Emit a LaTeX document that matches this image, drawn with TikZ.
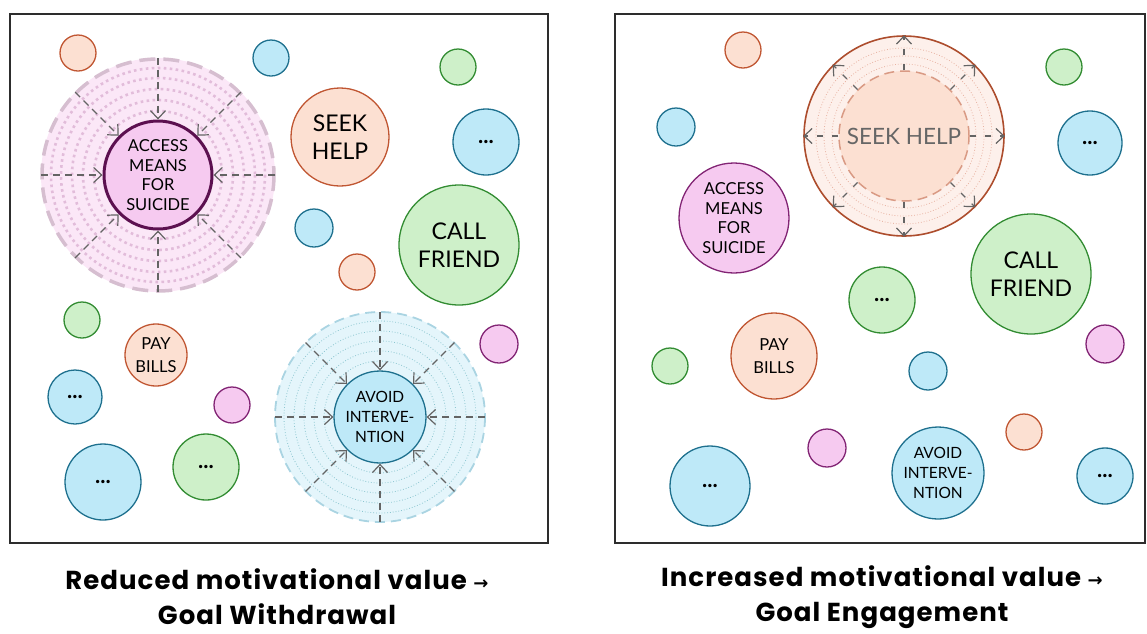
\documentclass[tikz,border=0pt]{standalone}
\usepackage{fontspec}
\setmainfont{Lato}
\newfontfamily\titlefont[LetterSpace=4]{Poppins}
\newfontfamily\arrowfont{DejaVu Sans}
\usetikzlibrary{arrows.meta}
\definecolor{orangefill}{RGB}{252,224,210}
\definecolor{orangeline}{RGB}{192,86,50}
\definecolor{bluefill}{RGB}{190,233,248}
\definecolor{blueline}{RGB}{30,112,142}
\definecolor{greenfill}{RGB}{206,240,201}
\definecolor{greenline}{RGB}{50,140,50}
\definecolor{pinkfill}{RGB}{246,202,240}
\definecolor{pinkline}{RGB}{130,36,116}
\definecolor{plumline}{RGB}{92,16,80}
\definecolor{pinkhalo}{RGB}{251,231,247}
\definecolor{pinkring}{RGB}{226,188,218}
\definecolor{pinkdash}{RGB}{214,190,208}
\definecolor{bluehalo}{RGB}{228,245,251}
\definecolor{bluering}{RGB}{140,198,208}
\definecolor{bluedash}{RGB}{170,212,226}
\definecolor{peachhalo}{RGB}{253,240,235}
\definecolor{peachring}{RGB}{232,178,162}
\definecolor{arrowgray}{RGB}{100,100,100}
\definecolor{framegray}{RGB}{45,45,45}
\newcommand{\dotring}[3]{
\draw[#3] (#1) circle[radius=#2];
}

\tikzset{
    bubble/.style={circle, draw, line width=1.3pt, inner sep=0pt, align=center,
        font=\fontsize{16.5}{19.5}\selectfont},
    orangebub/.style={bubble, fill=orangefill, draw=orangeline, minimum size=#1},
    bluebub/.style={bubble, fill=bluefill, draw=blueline, minimum size=#1},
    greenbub/.style={bubble, fill=greenfill, draw=greenline, minimum size=#1},
    pinkbub/.style={bubble, fill=pinkfill, draw=pinkline, minimum size=#1},
    bigtext/.style={font=\fontsize{23}{28}\selectfont},
    billtext/.style={font=\fontsize{16.5}{23}\selectfont},
    dots/.style={font=\bfseries\fontsize{22}{22}\selectfont},
    pushin/.style={draw=arrowgray, line width=1.2pt, dash pattern=on 7pt off 5pt,
        -{Straight Barb[length=8pt, width=15pt, line width=1.2pt]}},
    frame/.style={draw=framegray, line width=1.4pt},
    title/.style={align=center, font=\titlefont\bfseries\fontsize{26}{35}\selectfont}
}

\begin{document}
\begin{tikzpicture}[x=1pt, y=-1pt]
    \useasboundingbox (0,0) rectangle (1147,633);
    \draw[frame] (10,14) rectangle (548,543);
    \draw[frame] (615,14) rectangle (1145,543);

    % left panel: withdrawal
    \foreach \c/\x/\y/\d [count=\i] in {orange/78/53/36, blue/271/58/36, green/458/67/36,
        blue/314/228/38, orange/357/272/36, green/82/320/36, pink/499/344/38, pink/232/405/36}
        \node[\c bub=\d] (wdot\i) at (\x,\y) {};
    \node[orangebub=98, bigtext] (wseek) at (340,137) {SEEK\\HELP};
    \node[bluebub=66, dots] (wmore1) at (486,142) {...};
    \node[greenbub=120, bigtext] (wcall) at (459,245) {CALL\\FRIEND};
    \node[orangebub=62, billtext] (wbills) at (156,355) {PAY\\BILLS};
    \node[bluebub=54, dots] (wmore2) at (75,397) {...};
    \node[bluebub=76, dots] (wmore3) at (103,482) {...};
    \node[greenbub=66, dots] (wmore4) at (206,467) {...};

    % shrinking halo round the suicide goal
    \node[circle, minimum size=234, fill=pinkhalo] (waccHalo) at (158,175) {};
    \foreach \r in {64,75,86,97,107}
        \dotring{waccHalo.center}{\r}{pinkring, line width=2.6pt, dash pattern=on 2.6pt off 3.4pt};
    \draw[draw=pinkdash, line width=3.5pt, dash pattern=on 16pt off 8pt]
        (waccHalo.center) circle[radius=116];
    \node[bubble, fill=pinkfill, draw=plumline, line width=3pt, minimum size=108] (wacc)
        at (158,175) {ACCESS\\MEANS\\FOR\\SUICIDE};
    \foreach \a in {0,45,...,315}
        \draw[pushin] (waccHalo.\a) -- (wacc.\a);

    % shrinking halo round avoiding intervention
    \node[circle, minimum size=210, fill=bluehalo] (wavoidHalo) at (380,417) {};
    \foreach \r in {56,66,76,86,96}
        \dotring{wavoidHalo.center}{\r}{bluering, line width=0.8pt, dotted};
    \draw[draw=bluedash, line width=1.8pt, dash pattern=on 10pt off 6pt]
        (wavoidHalo.center) circle[radius=105];
    \node[bluebub=92, font=\fontsize{15.5}{20}\selectfont] (wavoid) at (380,417) {AVOID\\INTERVE-\\NTION};
    \foreach \a in {0,45,...,315}
        \draw[pushin] (wavoidHalo.\a) -- (wavoid.\a);

    % right panel: engagement
    \foreach \c/\x/\y/\d [count=\i] in {orange/743/50/36, green/1064/67/36, blue/676/127/38,
        green/670/366/36, blue/928/371/38, pink/1105/344/38, orange/1024/432/36, pink/827/448/38}
        \node[\c bub=\d] (edot\i) at (\x,\y) {};
    \node[bluebub=64, dots] (emore1) at (1090,143) {...};
    \node[pinkbub=110] (eacc) at (734,218) {ACCESS\\MEANS\\FOR\\SUICIDE};
    \node[greenbub=120, bigtext] (ecall) at (1031,274) {CALL\\FRIEND};
    \node[greenbub=66, dots] (emore2) at (882,300) {...};
    \node[orangebub=86, billtext] (ebills) at (774,356) {PAY\\BILLS};
    \node[bluebub=92, font=\fontsize{15.5}{20}\selectfont] (eavoid) at (938,473) {AVOID\\INTERVE-\\NTION};
    \node[bluebub=80, dots] (emore3) at (710,486) {...};
    \node[bluebub=56, dots] (emore4) at (1105,476) {...};

    % growing halo round seeking help
    \node[circle, minimum size=200, fill=peachhalo, draw=orangeline!90!black, line width=1.6pt]
        (eseekHalo) at (904,136) {};
    \foreach \r in {72,80,88}
        \dotring{eseekHalo.center}{\r}{peachring, line width=0.8pt, dotted};
    \node[circle, minimum size=130, fill=orangefill, draw=orangeline!60, line width=1.5pt,
        dash pattern=on 10pt off 6pt, text=black!60, font=\fontsize{22.5}{24}\selectfont]
        (eseek) at (904,136) {SEEK HELP};
    \foreach \a in {0,45,...,315}
        \draw[pushin, dash pattern=on 6pt off 9pt] (eseek.\a) -- (eseekHalo.\a);

    \node[title] (wtitle) at (277,597)
        {Reduced motivational value {\arrowfont\bfseries\fontsize{18}{18}\selectfont →}\\Goal Withdrawal};
    \node[title] (etitle) at (882,597)
        {Increased motivational value {\arrowfont\bfseries\fontsize{18}{18}\selectfont →}\\Goal Engagement};
\end{tikzpicture}
\end{document}
